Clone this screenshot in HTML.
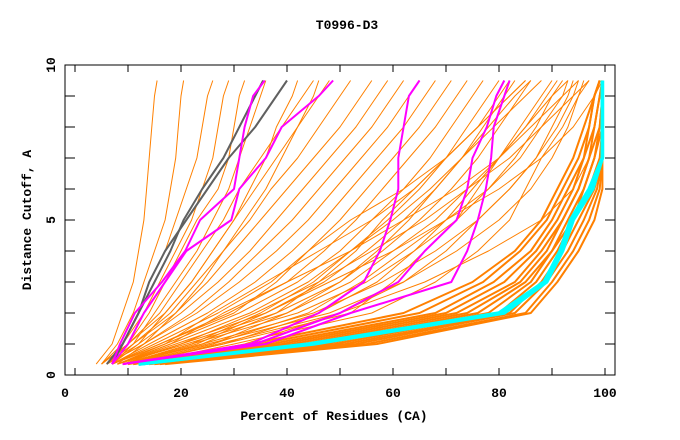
<!DOCTYPE html>
<html><head><meta charset="utf-8"><style>
html,body{margin:0;padding:0;background:#fff;}
svg{display:block;font-family:"Liberation Mono",monospace;font-weight:bold;}
</style></head><body>
<svg id="chart" width="680" height="440" viewBox="0 0 680 440" xmlns="http://www.w3.org/2000/svg">
<text x="347" y="29" font-size="13" text-anchor="middle">T0996-D3</text>
<g id="plot"></g>
<g id="axes"></g>
<text x="334" y="420" font-size="13" text-anchor="middle">Percent of Residues (CA)</text>
<text transform="translate(31,220) rotate(-90)" font-size="13" text-anchor="middle">Distance Cutoff, A</text>
</svg>
<script>
const cutoffs = [0.35,1,2,3,4,5,6,7,8,9,9.5];
const orangeSeries = [
[4,7,9,11,12,13,13.5,14,14.5,15,15.5],
[5,8,11,13,15,17,18,19,19.5,20,20.5],
[5,9,12,14,17,19,21,23,24,25,26],
[6,9,13,16,19,22,24,26,27,28,29],
[6,10,14,17,20,23,27,29,30,31,32],
[7,11,15,19,23,26,29,31,33,35,36],
[7,12,17,22,26,30,33,36,38,41,42],
[8,13,19,24,28,32,36,39,42,45,46],
[5,10,17,22,26,30,34,38,42,46,48],
[5,10,16,20,24,28,31,35,39,43,45],
[6,11,18,23,28,33,37,42,46,50,52],
[6,11,19,25,30,35,40,45,50,54,56],
[6,12,20,27,33,38,43,48,53,57,59],
[6,13,22,29,35,41,46,51,56,60,62],
[6,13,23,31,38,44,49,54,59,63,65],
[7,14,25,34,41,47,52,57,62,66,68],
[7,15,27,37,44,50,55,60,65,69,71],
[7,16,29,40,47,53,58,63,68,72,74],
[7,17,31,42,50,56,62,67,71,75,77],
[8,18,33,44,52,59,65,70,74,78,80],
[8,19,36,47,55,62,68,73,77,81,83],
[8,20,38,50,58,65,71,76,80,84,86],
[8,21,40,52,60,68,74,80,84,88,90],
[9,22,42,55,64,72,78,83,87,90,92],
[9,24,45,58,68,76,82,87,90,93,94],
[9,25,48,62,72,80,86,90,93,95,96],
[10,28,52,60,66,72,76,80,85,90,93],
[12,30,56,68,76,82,85,88,92,95,97],
[9,23,36,48,60,70,78,84,88,92,93],
[8,17,26,36,46,56,64,70,76,82,85],
[7,16,30,38,44,52,62,70,76,80,82],
[9,20,34,46,56,66,74,82,88,94,97],
[8,18,28,40,52,62,72,80,86,92,95],
[10,26,44,54,62,70,80,88,94,98,99.5],
[11,27,50,66,78,88,94,97,99,99.5,99.5],
[10,26,40,50,57,63,68,73,78,83,86],
[11,28,46,57,64,70,75,80,85,89,91],
[10,24,38,46,53,58,64,70,76,82,85],
[9,22,35,45,52,60,67,73,79,85,88],
[12,32,50,62,70,76,82,87,91,94,95],
[10,33,62,75,83,88,91,94,96,98,99],
[11,35,65,77,84,89,92,95,97,98,99],
[11,37,68,79,86,90,93,96,97,98,99],
[12,39,70,81,87,91,94,96,98,99,99.5],
[12,41,72,83,88,92,95,97,98,99,99.5],
[13,43,74,84,89,92,95,97,99,99.5,99.5],
[13,45,76,85,90,93,96,98,99,99.5,99.5],
[14,47,78,86,90,94,96,98,99.5,99.5,99.5],
[14,49,80,87,91,94,97,99,99.5,99.5,99.5],
[15,51,82,88,92,95,98,99.5,99.5,99.5,99.5],
[15,53,83,89,93,96,98.5,99.5,99.5,99.5,99.5],
[16,55,85,90,94,97,99,99.5,99.5,99.5,99.5],
[17,57,86,91,95,98,99.5,99.5,99.5,99.5,99.5]
];
const graySeries = [
[6,9,12,15,18,20.5,24,28,31,34,35.5],
[7,9,12,14,17,21,25,29,34,38,40]
];
const magentaSeries = [
[7,8.5,11.3,16.4,20.8,23.6,30,31,32,33.6,35.8],
[7,10,13,17,21,29.5,31,36,39,46,48.7],
[9,33,46,54.5,57.5,59.5,61,61,62,63,65],
[9,34,50,61,66,72,74,75,77.7,79.5,81],
[9,36,52,71,74,76,77.5,78.5,79,81,82]
];
const cyanSeries = [
[12,45,81,89,92,94,97.7,99.5,99.5,99.5,99.5],
[12,44,80,88.5,91.5,93.5,97,99.5,99.5,99.5,99.5]
];
const xTicks = [0,20,40,60,80,100];
const yTicks = [0,5,10];

const NS="http://www.w3.org/2000/svg";
const X0=75, XS=5.3, Y0=375, YS=31;
function sx(v){return X0+v*XS;}
function sy(v){return Y0-v*YS;}
const plot=document.getElementById('plot');
const axes=document.getElementById('axes');
function drawLine(vals,color,w,name){
  const p=document.createElementNS(NS,'polyline');
  p.setAttribute('points',vals.map((v,i)=>sx(v).toFixed(1)+','+sy(cutoffs[i]).toFixed(1)).join(' '));
  p.setAttribute('fill','none');
  p.setAttribute('stroke',color);
  p.setAttribute('stroke-width',w);
  p.setAttribute('stroke-linejoin','round');
  
  
  plot.appendChild(p);
}
orangeSeries.forEach(s=>drawLine(s,'#ff8000',1,'model-line'));
orangeSeries.slice(40).forEach(s=>drawLine(s,'#ff8000',2,'model-line-dense'));
cyanSeries.forEach(s=>drawLine(s,'#00ffff',3.5,'highlight-cyan-line'));
graySeries.forEach(s=>drawLine(s,'#606060',2,'highlight-gray-line'));
magentaSeries.forEach(s=>drawLine(s,'#ff00ff',2,'highlight-magenta-line'));

function el(tag,attrs,parent){const e=document.createElementNS(NS,tag);for(const k in attrs)e.setAttribute(k,attrs[k]);parent.appendChild(e);return e;}
const frame=el('rect',{x:65,y:65,width:550,height:310,fill:'none',stroke:'#000','stroke-width':1},axes);


for(let v=0;v<=100;v+=10){
  const x=sx(v);
  const t1=el('line',{x1:x,y1:375,x2:x,y2:368,stroke:'#000'},axes);
  
  
  const t2=el('line',{x1:x,y1:65,x2:x,y2:72,stroke:'#000'},axes);
  
  
}
for(let v=0;v<=10;v+=1){
  const y=sy(v);
  const t1=el('line',{x1:65,y1:y,x2:75,y2:y,stroke:'#000'},axes);
  
  
  const t2=el('line',{x1:605,y1:y,x2:615,y2:y,stroke:'#000'},axes);
  
  
}
xTicks.forEach(v=>{
  const t=el('text',{x:v===0?65:sx(v),y:397,'font-size':13,'text-anchor':'middle'},axes);
  t.textContent=v;
  
  
});
yTicks.forEach(v=>{
  const y=sy(v);
  const t=el('text',{transform:'translate(55,'+y+') rotate(-90)','font-size':13,'text-anchor':'middle'},axes);
  t.textContent=v;
  
  
});
</script>
</body></html>
